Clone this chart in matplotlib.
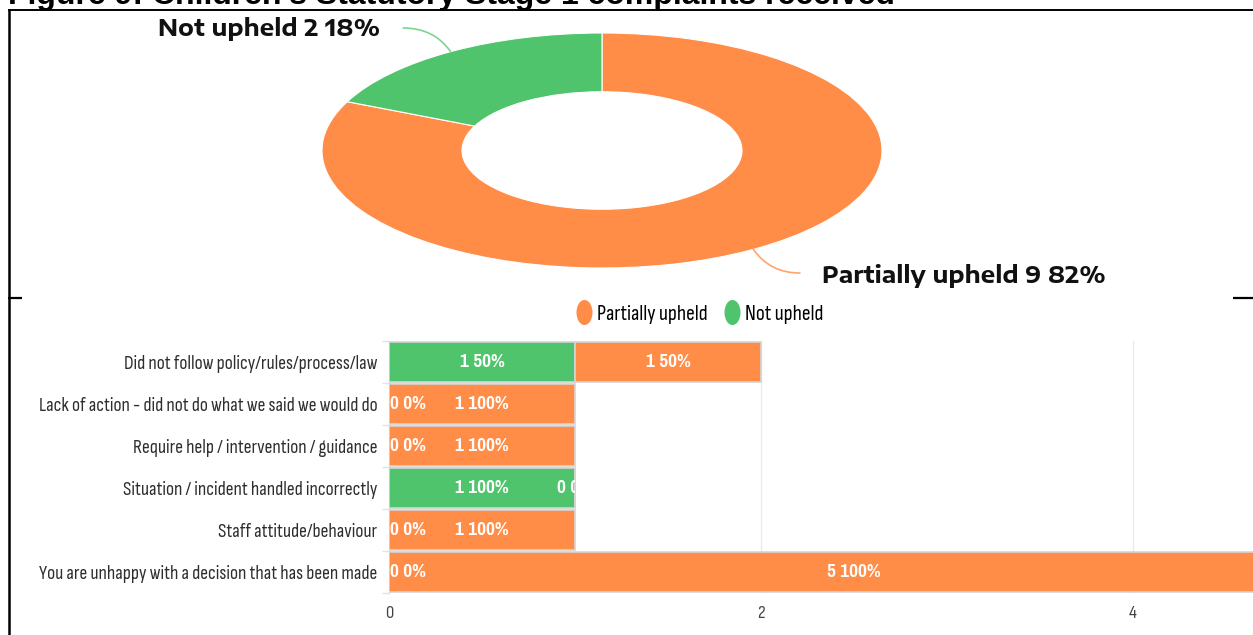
import matplotlib
matplotlib.use("Agg")
import matplotlib.pyplot as plt
from matplotlib.lines import Line2D
from matplotlib.path import Path
from matplotlib.transforms import Affine2D, Bbox, TransformedBbox
import numpy as np

# ---- data -------------------------------------------------------------
title = "Figure 9: Children\u2019s Statutory Stage 1 complaints received"

outcomes = ["Partially upheld", "Not upheld"]
outcome_totals = [9, 2]

categories = [
    "Did not follow policy/rules/process/law",
    "Lack of action - did not do what we said we would do",
    "Require help / intervention / guidance",
    "Situation / incident handled incorrectly",
    "Staff attitude/behaviour",
    "You are unhappy with a decision that has been made",
]
not_upheld = [1, 0, 0, 1, 0, 0]
partially_upheld = [1, 1, 1, 0, 1, 5]
x_ticks = [0, 2, 4]

# ---- style ------------------------------------------------------------
ORANGE = "#FF8C47"
GREEN = "#4FC46C"
W, H = 1253, 635
COND = "Sofia Sans Condensed"
COND_BOLD = "Pragati Narrow"
WIDE = "Encode Sans Expanded"


def fx(px):
    return px / W


def fy(py):
    return 1 - py / H


fig = plt.figure(figsize=(W / 100, H / 100), dpi=100)

# ---- page furniture: heading and frame ---------------------------------
fig.text(fx(8), fy(4), title, family="Liberation Sans", weight="bold",
         fontsize=23, ha="left", va="baseline", color="black")
frame_kw = dict(color="black", transform=fig.transFigure, solid_capstyle="butt")
fig.add_artist(Line2D([fx(8), 1], [fy(9.5), fy(9.5)], lw=1.4, **frame_kw))
fig.add_artist(Line2D([fx(9), fx(9)], [fy(9), 0], lw=1.8, **frame_kw))
fig.add_artist(Line2D([fx(8), fx(22)], [fy(298), fy(298)], lw=1.6, **frame_kw))
fig.add_artist(Line2D([fx(1233), 1], [fy(298), fy(298)], lw=1.6, **frame_kw))

# ---- doughnut -----------------------------------------------------------
axp = fig.add_axes([fx(322), fy(268), fx(882) - fx(322), fy(33) - fy(268)])
wedges, _ = axp.pie(outcome_totals, colors=[ORANGE, GREEN], startangle=90,
                    counterclock=False,
                    wedgeprops=dict(width=0.5, edgecolor="white", linewidth=0.8))
axp.set_aspect("auto")
axp.set_xlim(-1, 1)
axp.set_ylim(-1, 1)
axp.axis("off")

total = sum(outcome_totals)
pct = [round(100 * v / total) for v in outcome_totals]
# label placement for each slice: text anchor, leader start, alignment, bend
placements = {
    "Not upheld": dict(text=(-0.793, 1.034), line=(-0.71, 1.043), ha="right", angB=-55),
    "Partially upheld": dict(text=(0.786, -1.068), line=(0.707, -1.043), ha="left", angB=-55),
}
line_cols = {"Partially upheld": "#FFA46E", "Not upheld": "#7CD494"}
for w, name, v, p in zip(wedges, outcomes, outcome_totals, pct):
    mid = np.deg2rad((w.theta1 + w.theta2) / 2)
    edge = (np.cos(mid), np.sin(mid))
    pl = placements[name]
    axp.annotate("", xy=edge, xytext=pl["line"], annotation_clip=False,
                 arrowprops=dict(arrowstyle="-", color=line_cols[name], lw=1.2,
                                 shrinkA=0, shrinkB=0,
                                 connectionstyle=f"angle3,angleA=0,angleB={pl['angB']}"))
    axp.text(*pl["text"], f"{name} {v} {p}%", ha=pl["ha"], va="center",
             family=WIDE, weight="bold", fontsize=16.5, color="#111111",
             clip_on=False)

# ---- legend -------------------------------------------------------------
oval = Path.unit_circle().transformed(Affine2D().scale(0.62, 1.0))
handles = [Line2D([], [], ls="", marker=oval, markersize=17, color=c)
           for c in (ORANGE, GREEN)]
fig.legend(handles, outcomes, loc="center", ncol=2, frameon=False,
           bbox_to_anchor=(fx(700), fy(314)), handlelength=0.7,
           handletextpad=0.25, columnspacing=0.8,
           prop=dict(family=COND, size=15.5))

# ---- stacked horizontal bars ------------------------------------------
unit = (1133 - 389) / 4
xmax = 5
axb = fig.add_axes([fx(389), fy(593), unit * xmax / W, fy(341) - fy(593)])
y = np.arange(len(categories))
bar_kw = dict(height=0.93, edgecolor="#D4D4D4", linewidth=1.2, zorder=3)
axb.barh(y, not_upheld, color=GREEN, **bar_kw)
axb.barh(y, partially_upheld, left=not_upheld, color=ORANGE, **bar_kw)

axb.set_xlim(0, xmax)
axb.set_ylim(len(categories) - 0.5, -0.5)
axb.set_yticks(y)
axb.set_yticklabels(categories, family=COND, fontsize=14, color="#2E2E2E")
axb.set_yticks(np.arange(len(categories) + 1) - 0.5, minor=True)
axb.tick_params(axis="y", which="major", length=0, pad=8.5)
axb.tick_params(axis="y", which="minor", length=5, color="#E3E3E3", width=1)
axb.set_xticks(x_ticks)
axb.set_xticklabels([str(t) for t in x_ticks], family=COND, fontsize=13.5,
                    color="#444444")
axb.tick_params(axis="x", length=0, pad=9)
axb.grid(axis="x", color="#EBEBEB", lw=1, zorder=0)
for side in ("top", "right", "bottom"):
    axb.spines[side].set_visible(False)
axb.spines["left"].set_color("#E3E3E3")

row_tot = [a + b for a, b in zip(not_upheld, partially_upheld)]
for i, (g, o) in enumerate(zip(not_upheld, partially_upheld)):
    for left, val in ((0, g), (g, o)):
        share = round(100 * val / row_tot[i]) if row_tot[i] else 0
        label = f"{val} {share}%"
        kw = dict(color="white", weight="bold", family=COND_BOLD, fontsize=15,
                  va="center", zorder=5)
        if val == 0 and left == 0:
            axb.text(0.005, i, label, ha="left", **kw)
        else:
            t = axb.text(left + val / 2, i, label, ha="center", **kw)
            if val == 0:
                t.set_clip_box(TransformedBbox(
                    Bbox([[0, i - 0.5], [row_tot[i], i + 0.5]]), axb.transData))
                t.set_clip_on(True)

fig.savefig("out.png", dpi=100)
